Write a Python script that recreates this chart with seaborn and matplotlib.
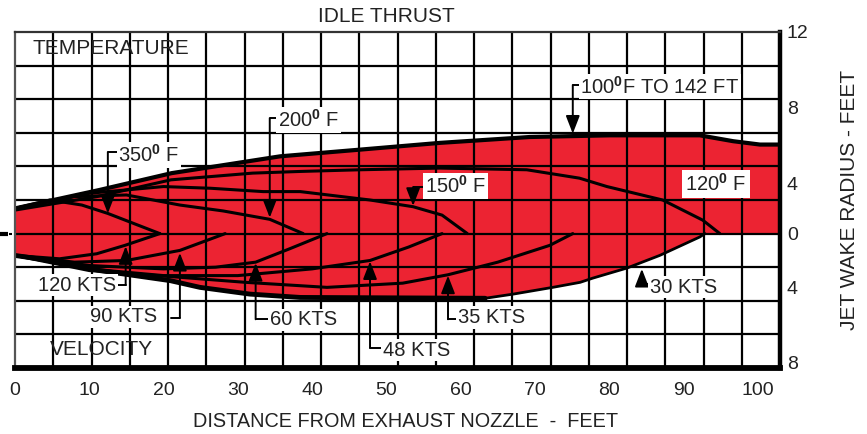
import numpy as np
import matplotlib
matplotlib.use("Agg")
import matplotlib.pyplot as plt
import seaborn as sns

# ---------------- data (feet) ----------------
# outer wake envelope: upper edge = 100 F contour, lower edge = 30 KTS contour
top_x = [0, 11.4, 21.1, 35.7, 46.5, 57.2, 69.3, 80.1, 92.2, 96.7, 100.3, 103]
top_y = [1.5, 2.6, 3.6, 4.6, 5.0, 5.4, 5.75, 5.85, 5.85, 5.5, 5.3, 5.3]
bot_x = [0, 7.0, 11.4, 20.9, 24.9, 31.6, 38.4, 63.3, 67.1, 72.4, 76.1, 77.8, 82.4, 86.8, 92.2, 92.9, 103]
bot_y = [-1.3, -1.75, -2.2, -2.8, -3.2, -3.6, -3.8, -3.85, -3.6, -3.2, -2.9, -2.65, -2.05, -1.3, -0.2, 0, 0]

# temperature contours (upper half)
t120_x = [0, 11, 21, 32, 38.4, 46.5, 57.2, 68.9, 76, 79.7, 87.2, 92.6, 94.9]
t120_y = [1.4, 2.2, 3.2, 3.6, 3.7, 3.8, 3.9, 3.8, 3.3, 2.8, 2.0, 0.8, 0]
t150_x = [0, 10, 20, 26.3, 33.4, 38.4, 47.8, 53.6, 57.5, 60.9]
t150_y = [1.5, 2.4, 2.8, 2.7, 2.5, 2.5, 2.0, 1.6, 1.1, 0]
t200_x = [0, 8, 15, 22.2, 28, 34.3, 38.8]
t200_y = [1.5, 2.2, 2.3, 1.7, 1.35, 0.85, 0]
t350_x = [0, 4.7, 9, 12.5, 16, 19.5]
t350_y = [1.5, 2.0, 1.7, 1.2, 0.6, 0]

# velocity contours (lower half)
v120_x = [0, 6, 11, 14.8, 19.5]
v120_y = [-1.3, -1.5, -1.2, -0.7, 0]
v90_x = [0, 8, 15, 22.2, 28.3]
v90_y = [-1.3, -1.7, -1.6, -1.0, 0]
v60_x = [0, 10, 20, 27, 32.4, 37, 42]
v60_y = [-1.3, -1.9, -2.1, -2.0, -1.7, -0.9, 0]
v48_x = [0, 10, 20, 30, 40, 47.8, 53, 57.5]
v48_y = [-1.3, -2.1, -2.5, -2.5, -2.1, -1.6, -0.8, 0]
v35_x = [0, 10, 22.2, 31, 42, 52.2, 58.3, 65, 72, 75.1]
v35_y = [-1.3, -2.2, -2.6, -2.9, -3.2, -2.95, -2.45, -1.7, -0.7, 0]

# axis ticks
x_ticks = [0, 10, 20, 30, 40, 50, 60, 70, 80, 90, 100]
y_tick_pos = [12, 7.5, 3.0, 0, -3.2, -7.7]
y_tick_labels = ["12", "8", "4", "0", "4", "8"]

# callouts: text, text-x, text-y, corner-x, corner-y, arrow-tip-y
temp_texts = [r"350$^{\mathbf{0}}$ F", r"200$^{\mathbf{0}}$ F", r"150$^{\mathbf{0}}$ F",
              r"100$^{\mathbf{0}}$F TO 142 FT"]
temp_tx = [13.9, 35.4, 55.2, 76.1]
temp_ty = [4.68, 6.76, 2.83, 8.73]
temp_cx = [12.5, 34.3, 53.6, 75.1]
temp_cy = [4.86, 6.88, 2.77, 8.85]
temp_tip = [1.2, 0.95, 1.65, 5.95]

vel_texts = ["120 KTS", "90 KTS", "60 KTS", "48 KTS", "35 KTS", "30 KTS"]
vel_tx = [3.1, 10.1, 34.3, 49.5, 59.6, 85.5]
vel_ty = [-3.06, -4.96, -5.14, -6.94, -5.0, -3.2]
vel_cx = [14.9, 22.2, 32.4, 47.8, 58.3, 84.4]
vel_cy = [-3.06, -5.0, -5.1, -6.8, -5.1, -3.0]
vel_tip = [-0.75, -1.15, -1.75, -1.65, -2.5, -2.1]
vel_side = ["right", "right", "left", "left", "left", "left"]

# ---------------- style ----------------
sns.set_theme(style="white")
plt.rcParams['font.family'] = ['Liberation Sans', 'DejaVu Sans']
plt.rcParams['mathtext.fontset'] = 'custom'
plt.rcParams['mathtext.rm'] = 'Liberation Sans'
plt.rcParams['mathtext.bf'] = 'Liberation Sans:bold'
TXT = '#222222'
RED = '#EC2332'

fig = plt.figure(figsize=(8.67, 4.34), dpi=100)
ax = fig.add_axes([15/867, 1-368/434, 765/867, 336/434])
ax.set_xlim(0, 103)
ax.set_ylim(-8, 12)

# red wake
ax.fill(np.r_[top_x, bot_x[::-1]], np.r_[top_y, bot_y[::-1]], color=RED, lw=0, zorder=1)

# grid
ax.vlines(np.linspace(0, 1, 21)[1:-1], 0, 1, transform=ax.transAxes, colors='black', lw=1.6, zorder=2)
ax.hlines(np.arange(-6, 12, 2), 0, 1, transform=ax.get_yaxis_transform(), colors='black', lw=1.6, zorder=2)

# contours
for xs, ys in [(t120_x, t120_y), (t150_x, t150_y), (t200_x, t200_y), (t350_x, t350_y),
               (v120_x, v120_y), (v90_x, v90_y), (v60_x, v60_y), (v48_x, v48_y), (v35_x, v35_y)]:
    sns.lineplot(x=xs, y=ys, ax=ax, color='black', lw=2.2, sort=False, estimator=None, zorder=3)
sns.lineplot(x=top_x, y=top_y, ax=ax, color='black', lw=3.0, sort=False, estimator=None, zorder=3)
sns.lineplot(x=bot_x[:8], y=bot_y[:8], ax=ax, color='black', lw=3.5, sort=False, estimator=None, zorder=3)
sns.lineplot(x=bot_x[7:-1], y=bot_y[7:-1], ax=ax, color='black', lw=2.0, sort=False, estimator=None, zorder=3)

box = dict(fc='white', ec='none', pad=1.2)
arrowp = dict(arrowstyle='-|>,head_length=0.9,head_width=0.35', color='black', lw=1.4,
              shrinkA=0, shrinkB=0, mutation_scale=12)

for s, tx, ty, cx, cy, tip in zip(temp_texts, temp_tx, temp_ty, temp_cx, temp_cy, temp_tip):
    ax.text(tx, ty, s, fontsize=14.5, color=TXT, ha='left', va='center', bbox=box, zorder=6)
    ax.plot([cx, tx], [cy, cy], color='black', lw=1.4, zorder=5, solid_capstyle='butt')
    ax.annotate('', xy=(cx, tip), xytext=(cx, cy), arrowprops=arrowp, zorder=5)

ax.text(90.2, 2.95, r"120$^{\mathbf{0}}$ F", fontsize=14.5, color=TXT, ha='left', va='center',
        bbox=dict(fc='white', ec='none', pad=2.5), zorder=6)

for s, tx, ty, cx, cy, tip, side in zip(vel_texts, vel_tx, vel_ty, vel_cx, vel_cy, vel_tip, vel_side):
    ax.text(tx, ty, s, fontsize=14.5, color=TXT, ha='left', va='center', bbox=box, zorder=6)
    if side == 'right':
        ax.plot([cx - 1.2, cx], [cy, cy], color='black', lw=1.4, zorder=5)
    else:
        ax.plot([cx, tx], [cy, cy], color='black', lw=1.4, zorder=5)
    ax.annotate('', xy=(cx, tip), xytext=(cx, cy), arrowprops=arrowp, zorder=5)

ax.text(2.4, 11.0, "TEMPERATURE", fontsize=15, color=TXT, ha='left', va='center', zorder=6)
ax.text(4.7, -6.87, "VELOCITY", fontsize=15, color=TXT, ha='left', va='center', zorder=6)
fig.text(386/867, 1-17/434, "IDLE THRUST", fontsize=15, color=TXT, ha='center', va='center')

# centerline mark at nozzle
ax.plot([-2.0, -1.0], [0, 0], color='black', lw=3, clip_on=False, solid_capstyle='butt')
ax.plot([-0.8, -0.45], [0, 0], color='black', lw=1.5, clip_on=False, solid_capstyle='butt')

# axes
ax.set_xticks(x_ticks)
ax.set_xticklabels([str(v) for v in x_ticks])
ax.tick_params(axis='x', length=0, pad=10, labelsize=14, colors=TXT)
ax.yaxis.tick_right()
ax.set_yticks(y_tick_pos)
ax.set_yticklabels(y_tick_labels)
ax.tick_params(axis='y', length=0, pad=5, labelsize=14, colors=TXT)
ax.set_xlabel('DISTANCE FROM EXHAUST NOZZLE  -  FEET', fontsize=14.3, color=TXT, va='center')
ax.xaxis.set_label_coords(0.51, -0.158)
ax.yaxis.set_label_position('right')
ax.set_ylabel('JET WAKE RADIUS - FEET', fontsize=15, color=TXT, rotation=90, va='center', ha='center')
ax.yaxis.set_label_coords(1.0915, 0.5)

ax.spines['left'].set(color='#555555', lw=1.6)
ax.spines['top'].set(color='#333333', lw=1.6)
ax.spines['right'].set(color='black', lw=3.2)
ax.spines['bottom'].set(color='black', lw=4.2)
for sp in ax.spines.values():
    sp.set_zorder(7)

fig.savefig('out.png', dpi=100)
